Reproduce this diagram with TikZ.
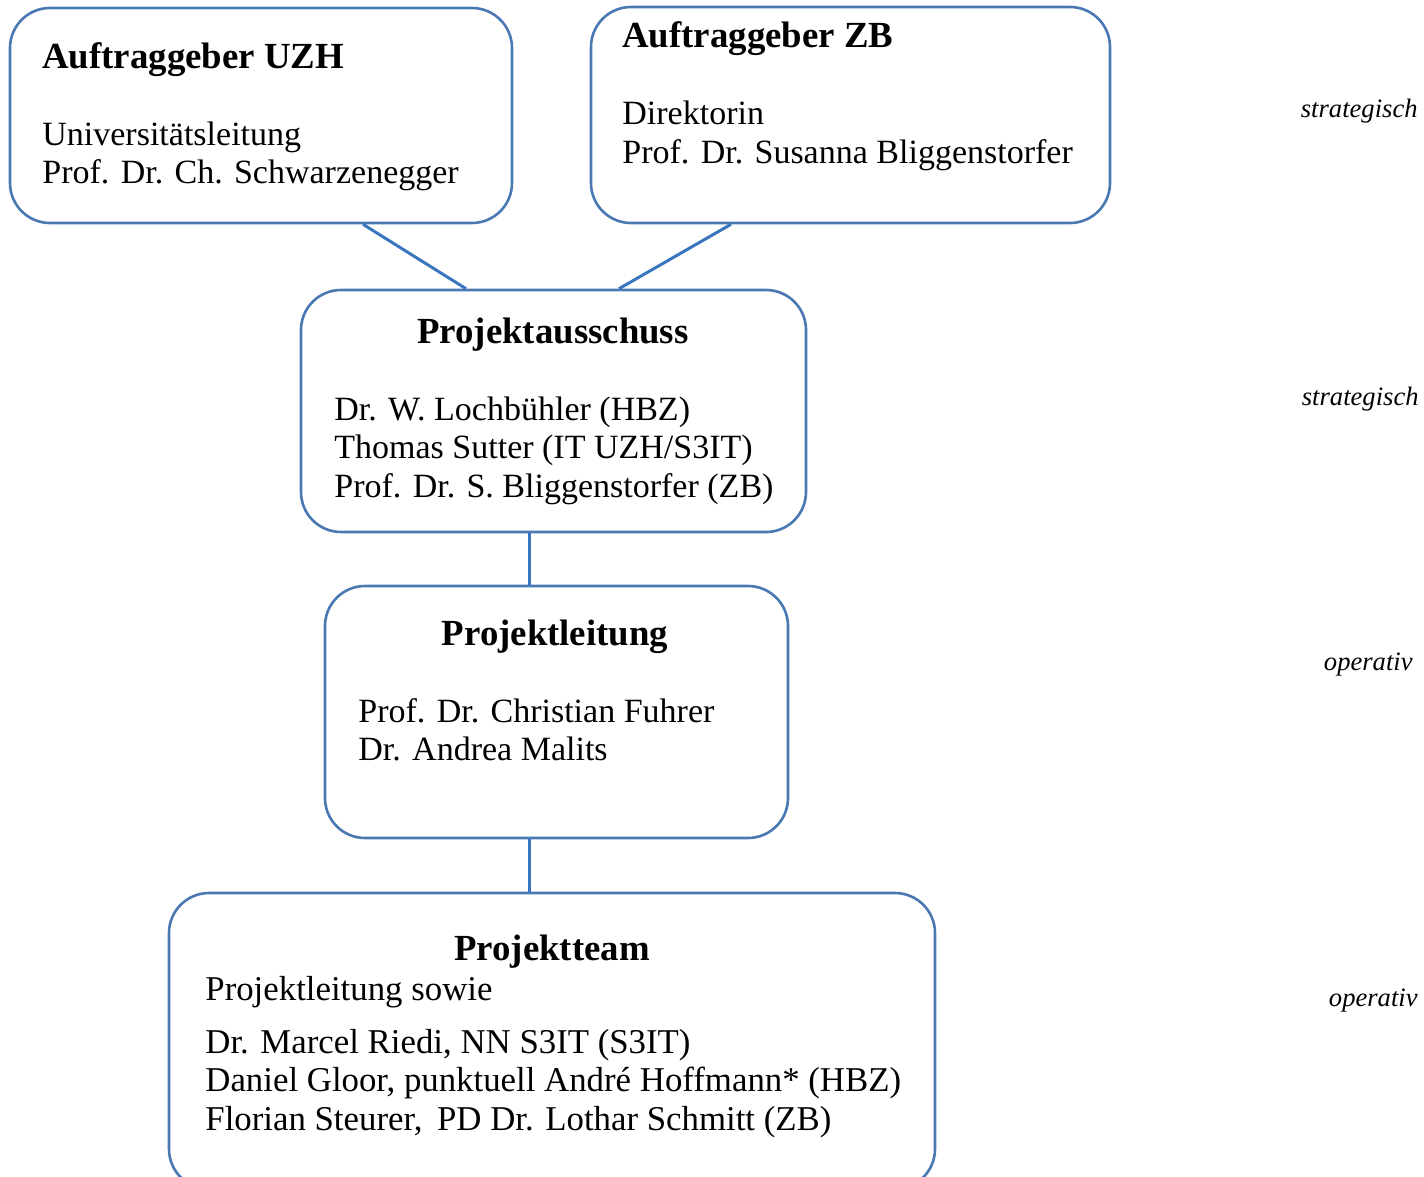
\documentclass[tikz,border=0pt]{standalone}
\usepackage{fontspec}
\setmainfont{Liberation Serif}
\definecolor{boxblue}{HTML}{4A78B2}
\definecolor{lineblue}{HTML}{3A76BE}
\begin{document}
\begin{tikzpicture}[x=0.5pt,y=-0.5pt,
  box/.style={draw=boxblue,line width=1.3pt,rounded corners=20pt,fill=white,inner sep=0pt},
  conn/.style={draw=lineblue,line width=1.5pt},
  txt/.style={anchor=base west,inner sep=0pt,font=\fontsize{17}{19}\selectfont},
  txtb/.style={anchor=base west,inner sep=0pt,font=\fontsize{17.4}{19}\selectfont},
  ttl/.style={anchor=base,inner sep=0pt,font=\fontsize{18.4}{20}\selectfont\bfseries},
  lvl/.style={anchor=base east,inner sep=0pt,font=\fontsize{13.3}{15}\selectfont\itshape}]
\useasboundingbox (0,0) rectangle (1424,1177);
\begin{scope}
\clip (0,0) rectangle (1424,1177);
\node[box,minimum width=251pt,minimum height=107.5pt] (uzh) at (261,115.5) {};
\node[box,minimum width=259.5pt,minimum height=108pt] (zb) at (850.5,115) {};
\node[box,minimum width=252.5pt,minimum height=121pt] (pa) at (553.5,411) {};
\node[box,minimum width=231.5pt,minimum height=126pt] (pl) at (556.5,712) {};
\node[box,minimum width=383pt,minimum height=148pt] (pt) at (552,1041) {};
\end{scope}
\draw[conn] ([xshift=51pt]uzh.south) -- ([xshift=-43.75pt]pa.north);
\draw[conn] ([xshift=-59.75pt]zb.south) -- ([xshift=32.75pt]pa.north);
\draw[conn] ([xshift=-12.25pt]pa.south) -- ([xshift=-13.75pt]pl.north);
\draw[conn] ([xshift=-13.75pt]pl.south) -- ([xshift=-11.5pt]pt.north);
% box 1
\node[ttl,anchor=base west] (t1) at (42,69) {Auftraggeber UZH};
\node[txt] (t1a) at (42,146) {Universitätsleitung};
\node[txt] (t1b) at (42,184) {Prof. Dr. Ch. Schwarzenegger};
% box 2
\node[ttl,anchor=base west] (t2) at (622,48) {Auftraggeber ZB};
\node[txt] (t2a) at (622,125) {Direktorin};
\node[txt] (t2b) at (622,163) {Prof. Dr. Susanna Bliggenstorfer};
% box 3
\node[ttl] (t3) at (553,343) {Projektausschuss};
\node[txt] (t3a) at (334,420) {Dr. W. Lochbühler (HBZ)};
\node[txt] (t3b) at (334,458) {Thomas Sutter (IT UZH/S3IT)};
\node[txt] (t3c) at (334,497) {Prof. Dr. S. Bliggenstorfer (ZB)};
% box 4
\node[ttl] (t4) at (555,645) {Projektleitung};
\node[txt] (t4a) at (358,722) {Prof. Dr. Christian Fuhrer};
\node[txt] (t4b) at (358,760) {Dr. Andrea Malits};
% box 5
\node[ttl] (t5) at (552,960) {Projektteam};
\node[txtb] (t5a) at (205,1000) {Projektleitung sowie};
\node[txtb] (t5b) at (205,1053) {Dr. Marcel Riedi, NN S3IT (S3IT)};
\node[txtb] (t5c) at (205,1091) {Daniel Gloor, punktuell André Hoffmann* (HBZ)};
\node[txtb] (t5d) at (205,1130) {Florian Steurer,\hspace{3pt} PD Dr. Lothar Schmitt (ZB)};
% levels
\node[lvl] (l1) at (1418,118) {strategisch};
\node[lvl] (l2) at (1419,405) {strategisch};
\node[lvl] (l3) at (1413,670) {operativ};
\node[lvl] (l4) at (1418,1006) {operativ};
\end{tikzpicture}
\end{document}
